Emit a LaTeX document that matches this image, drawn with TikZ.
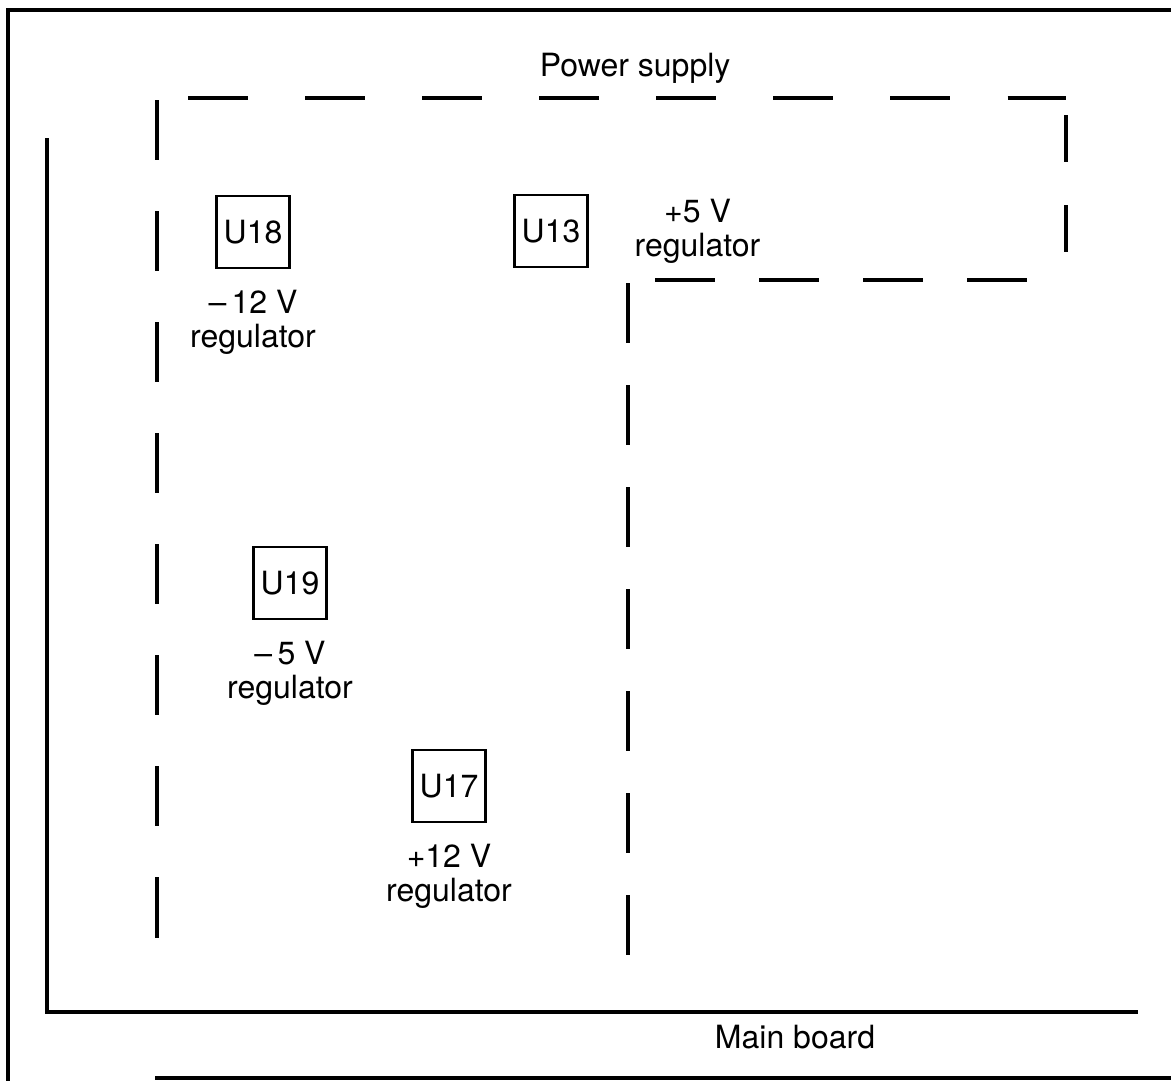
\documentclass[tikz,border=0pt]{standalone}
\usepackage{fontspec}
\setmainfont{TeX Gyre Heros}
\usetikzlibrary{positioning}

\begin{document}
\begin{tikzpicture}[
	x=0.01cm, y=-0.01cm,
	font=\fontsize{9.1pt}{9.6pt}\selectfont,
	% Define styles
	frameline/.style={line width=0.9pt},
	psline/.style={line width=1.15pt, dash pattern=on 0.6cm off #1},
	chip/.style={rectangle, draw, line width=0.8pt, minimum width=0.73cm, minimum height=0.72cm, inner sep=0pt},
	reglabel/.style={align=center, inner sep=0pt}
	]
	\useasboundingbox (0,0) rectangle (1171,1081);
	
	% 1. Frame of the page and main board
	\draw[frameline] (1171,10) -- (8,10) -- (8,1081);
	\draw[frameline] (155,1078) -- (1171,1078);
	\coordinate (mbtop) at (47,138);
	\coordinate (mbcorner) at (47,1012);
	\coordinate (mbend) at (1138,1012);
	\draw[frameline] (mbtop) -- (mbcorner) -- (mbend);
	\node (mainboard) at (795,1037) {Main board};
	
	% 2. Power supply area (dashed)
	\node (power) at (635,68) {Power supply};
	\coordinate (pstl) at (188,98);
	\coordinate (pstr) at (1066,98);
	\draw[psline=0.57cm] (pstl) -- (pstr);
	\draw[psline=0.51cm] (157,100) -- (157,958);
	\draw[psline=0.43cm, dash pattern=on 0.47cm off 0.43cm] (1066,115) -- (1066,255);
	\draw[psline=0.44cm] (655,280) -- (1035,280);
	\draw[psline=0.42cm] (628,283) -- (628,970);
	
	% 3. Regulators
	\node[chip] (u18) at (253,232) {U18};
	\node[chip] (u13) at (551,231) {U13};
	\node[chip] (u19) at (290,583) {U19};
	\node[chip] (u17) at (449,786) {U17};
	
	\node[reglabel, below=0.2cm of u18] (u18text) {\textendash\,12 V\\regulator};
	\node[reglabel, right=0.45cm of u13] (u13text) {+5 V\\regulator};
	\node[reglabel, below=0.2cm of u19] (u19text) {\textendash\,5 V\\regulator};
	\node[reglabel, below=0.2cm of u17] (u17text) {+12 V\\regulator};
\end{tikzpicture}
\end{document}
